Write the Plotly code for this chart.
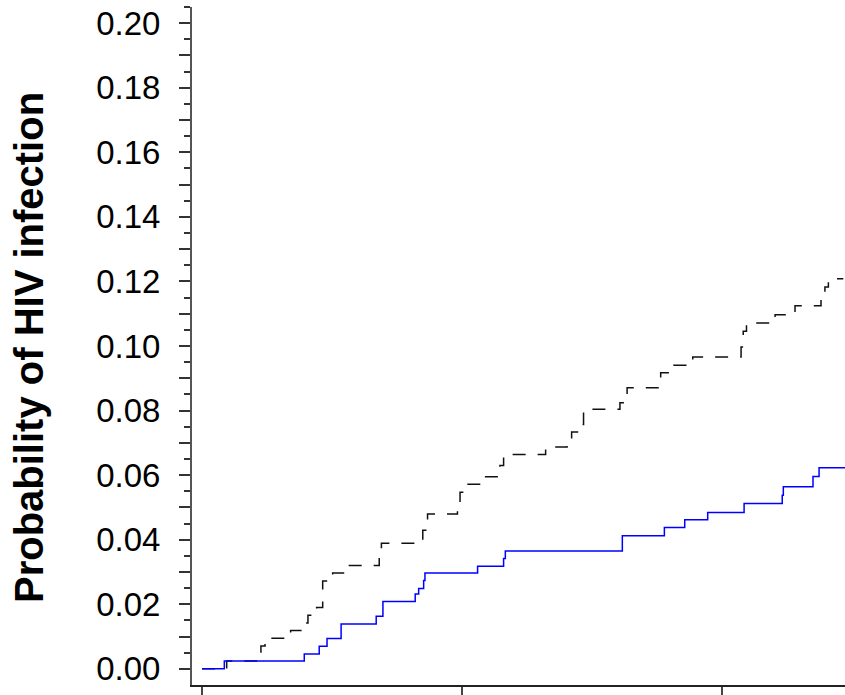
import plotly.graph_objects as go

# Time (months) and cumulative probability of HIV infection
blue_t = [0, 1.03, 4.72, 5.41, 5.77, 6.42, 8.04, 8.35, 9.84, 10.00, 10.23, 10.29,
          12.72, 13.92, 14.00, 19.40, 21.34, 22.28, 23.34, 25.02, 26.78, 26.83,
          28.20, 28.48, 29.68]
blue_p = [0, 0.0024, 0.0046, 0.0070, 0.0094, 0.0139, 0.0163, 0.0209, 0.0232, 0.0249,
          0.0274, 0.0297, 0.0318, 0.0342, 0.0365, 0.0412, 0.0438, 0.0462, 0.0484,
          0.0512, 0.0538, 0.0564, 0.0596, 0.0623, 0.0623]

black_t = [0, 1.14, 2.72, 2.91, 4.09, 4.68, 4.89, 5.29, 5.57, 6.03, 6.53, 8.18, 8.28,
           10.19, 10.41, 11.79, 11.91, 12.23, 12.98, 13.75, 13.92, 15.86, 16.85,
           17.06, 17.33, 17.61, 19.29, 19.62, 21.17, 21.78, 22.65, 24.88, 24.98,
           25.13, 26.45, 27.37, 28.57, 28.75, 28.91, 29.60]
black_p = [0, 0.0024, 0.0071, 0.0095, 0.0119, 0.0142, 0.0166, 0.0190, 0.0272, 0.0297,
           0.0320, 0.0358, 0.0389, 0.0429, 0.0480, 0.0509, 0.0547, 0.0572, 0.0595,
           0.0630, 0.0664, 0.0687, 0.0710, 0.0734, 0.0757, 0.0804, 0.0824, 0.0871,
           0.0917, 0.0940, 0.0966, 0.0997, 0.1046, 0.1071, 0.1097, 0.1125, 0.1158,
           0.1183, 0.1208, 0.1208]

x_ticks = [0, 12, 24]
y_major = [round(i * 0.01, 3) for i in range(21)]
y_labels = [f"{v:.2f}" if i % 2 == 0 else "" for i, v in enumerate(y_major)]
y_minor = [round(0.005 + i * 0.01, 3) for i in range(21)]

fig = go.Figure()
fig.add_trace(go.Scatter(x=black_t, y=black_p, mode="lines", line_shape="hv",
                         line=dict(color="#111111", width=1.5, dash="13px,12px"),
                         showlegend=False))
fig.add_trace(go.Scatter(x=blue_t, y=blue_p, mode="lines", line_shape="hv",
                         line=dict(color="#0000FF", width=1.5),
                         showlegend=False))

fig.update_layout(
    width=845, height=695,
    margin=dict(l=192, r=0, t=7, b=7),
    paper_bgcolor="white", plot_bgcolor="white",
    font=dict(family="Liberation Sans, Arial, sans-serif", color="black"),
    xaxis=dict(range=[-0.4615, 29.677], tickvals=x_ticks, showticklabels=False,
               ticks="outside", ticklen=10, tickwidth=2, tickcolor="#444",
               showline=True, linecolor="#222", linewidth=2,
               showgrid=False, zeroline=False),
    yaxis=dict(range=[-0.005, 0.205], tickmode="array", tickvals=y_major,
               ticktext=y_labels, ticks="outside", ticklen=11, tickwidth=2,
               tickcolor="#333", tickfont=dict(size=33), ticklabelstandoff=12,
               minor=dict(tickmode="array", tickvals=y_minor, ticks="outside",
                          ticklen=6, tickwidth=2, tickcolor="#333"),
               showline=True, linecolor="#555", linewidth=2,
               showgrid=False, zeroline=False),
)
fig.add_annotation(text="<b>Probability of HIV infection</b>", textangle=-90,
                   xref="paper", yref="paper", x=(29 - 192) / 653, y=0.497,
                   xanchor="center", yanchor="middle", showarrow=False,
                   font=dict(size=40, color="black"))

fig.write_html("out.html", config={"displayModeBar": False},
               post_script="document.body.style.margin='0';document.body.style.overflow='hidden';")
